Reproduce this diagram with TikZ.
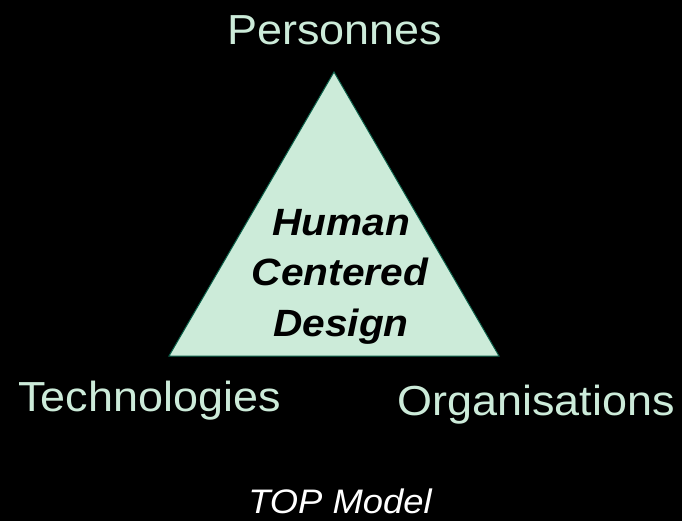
\documentclass[tikz,border=0pt]{standalone}
\usepackage{fontspec}
\setmainfont{Liberation Sans}[FakeStretch=1.07]
\usepackage{tikz}

\definecolor{mint}{HTML}{CCEBD9}
\definecolor{edgeteal}{HTML}{0B5E48}

\tikzset{
  corner/.style={text=mint,anchor=base,inner sep=0pt,font=\fontsize{42}{48}\selectfont},
  hcd/.style={text=black,anchor=base,inner sep=0pt,font=\fontsize{38}{44}\selectfont\bfseries\itshape}
}

\begin{document}
\begin{tikzpicture}[x=1pt,y=-1pt]
\fill[black] (0,0) rectangle (682,521);
\useasboundingbox (0,0) rectangle (682,521);
\coordinate (top) at (334,72);
\coordinate (bl) at (169,356);
\coordinate (br) at (499,356);
\draw[fill=mint,draw=edgeteal,line width=1pt] (top) -- (bl) -- (br) -- cycle;

\node[hcd] (human) at (341,236) {Human};
\node[hcd] (centered) at (340,285) {Centered};
\node[hcd] (design) at (341,336) {Design};

\node[corner] (pers) at (334.5,45) {Personnes};
\node[corner] (techno) at (149.5,411) {Technologies};
\node[corner] (orga) at (536,415) {Organisations};
%\draw (pers) -- (techno);
\node[text=white,anchor=base,inner sep=0pt,font=\fontsize{34}{40}\selectfont\itshape] (model) at (340,513) {TOP Model};
\end{tikzpicture}
\end{document}
